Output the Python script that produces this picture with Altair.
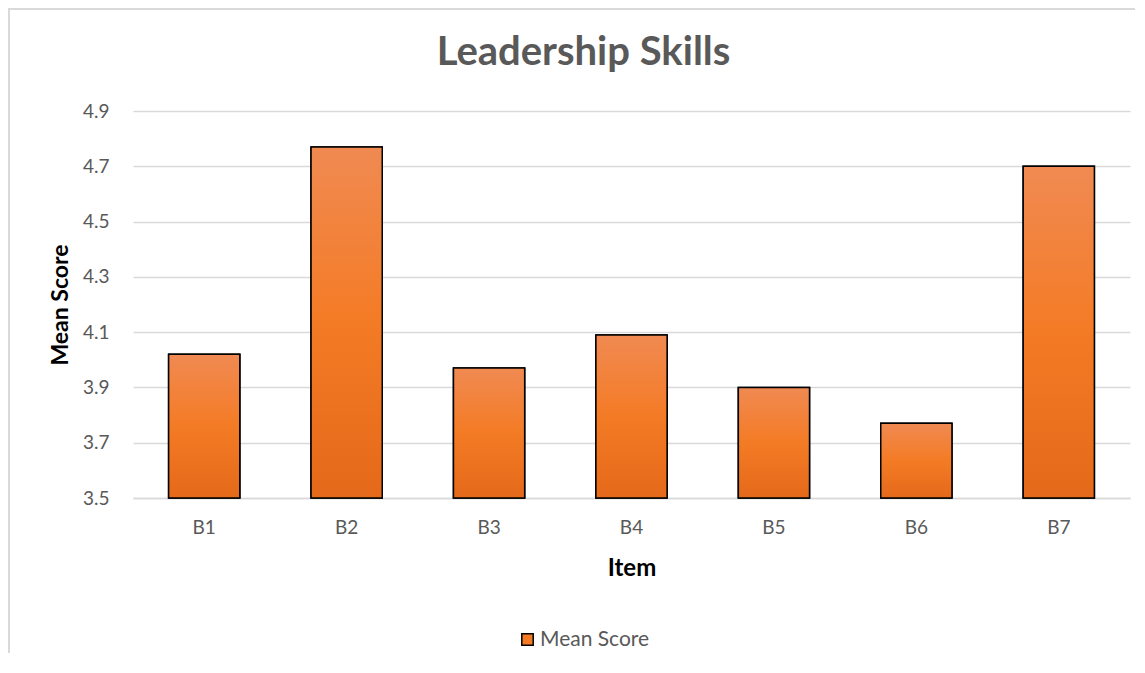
import altair as alt
import pandas as pd

items = ["B1", "B2", "B3", "B4", "B5", "B6", "B7"]
scores = [4.02, 4.77, 3.97, 4.09, 3.90, 3.77, 4.70]
series = ["Mean Score"] * len(items)
y_ticks = [3.5, 3.7, 3.9, 4.1, 4.3, 4.5, 4.7, 4.9]
y_min, y_max = 3.5, 4.9

df = pd.DataFrame({"Item": items, "Mean Score": scores, "series": series})

FONT = "Lato"
W, H = 997, 387

grad = alt.LinearGradient(
    gradient="linear",
    x1=0, x2=0, y1=0, y2=1,
    stops=[
        alt.GradientStop(color="#F08A52", offset=0),
        alt.GradientStop(color="#F47B25", offset=0.5),
        alt.GradientStop(color="#E4691A", offset=1),
    ],
)

x_enc = alt.X(
    "Item:N",
    sort=items,
    title="Item",
    scale=alt.Scale(paddingInner=0.5, paddingOuter=0.25),
    axis=alt.Axis(
        labelAngle=0, ticks=False, domain=True, domainColor="#D9D9D9", domainWidth=1.5,
        labelFont=FONT, labelFontSize=19, labelColor="#595959", labelPadding=20,
        titleFont=FONT, titleFontSize=24, titleFontWeight="bold", titleColor="#000000",
        titlePadding=19,
    ),
)
y_enc = alt.Y(
    "Mean Score:Q",
    title="Mean Score",
    scale=alt.Scale(domain=[y_min, y_max], zero=False, nice=False),
    axis=alt.Axis(
        values=y_ticks, format=".1f", ticks=False, domain=False,
        grid=True, gridColor="#D9D9D9", gridWidth=1.5,
        labelFont=FONT, labelFontSize=19, labelColor="#595959", labelPadding=24,
        titleFont=FONT, titleFontSize=23, titleFontWeight="bold", titleColor="#000000",
        titlePadding=10,
    ),
)
y2_enc = alt.Y2(datum=y_min)

border = alt.Chart(df).mark_rect(
    fill=None, stroke="#D9D9D9", strokeWidth=1.5
).encode(
    x=alt.value(-124), x2=alt.value(W + 40), y=alt.value(-102), y2=alt.value(H + 200)
)

legend_bars = alt.Chart(df).mark_bar(stroke="black", strokeWidth=1.5).encode(
    x=x_enc,
    y=y_enc,
    y2=y2_enc,
    color=alt.Color(
        "series:N",
        scale=alt.Scale(domain=["Mean Score"], range=["#F47B25"]),
        legend=alt.Legend(
            title=None, orient="none", legendX=384, legendY=518,
            symbolType="square", symbolSize=130, symbolStrokeColor="black",
            symbolStrokeWidth=1.5, labelFont=FONT, labelFontSize=21,
            labelColor="#595959", labelOffset=2,
        ),
    ),
)

grad_bars = alt.Chart(df).mark_bar(
    fill=grad, stroke="black", strokeWidth=1.5
).encode(x=x_enc, y=y_enc, y2=y2_enc)

chart = alt.layer(border, legend_bars, grad_bars).properties(
    width=W, height=H,
    title=alt.TitleParams(
        "Leadership Skills", font=FONT, fontSize=40, fontWeight="bold",
        color="#595959", anchor="middle", offset=-65, frame="group", dx=-48,
    ),
    autosize=alt.AutoSizeParams(type="none"),
    padding={"left": 125, "top": 103, "right": 5, "bottom": 155},
).configure_view(stroke=None)

chart.save("out.html", embed_options={"renderer": "svg", "actions": False})
